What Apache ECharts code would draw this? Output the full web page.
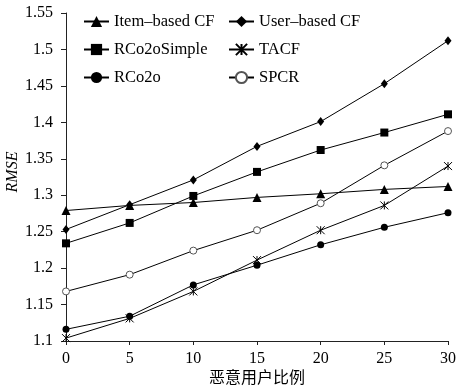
<!DOCTYPE html>
<html>
<head>
<meta charset="utf-8">
<script src="https://cdn.jsdelivr.net/npm/echarts@6/dist/echarts.min.js"></script>
<style>html,body{margin:0;padding:0;background:#fff}#c{width:462px;height:388px}</style>
</head>
<body>
<div id="c"></div>
<script>
var xValues = [0, 5, 10, 15, 20, 25, 30];
var itemCF = [1.279, 1.286, 1.290, 1.297, 1.302, 1.308, 1.312];
var userCF = [1.253, 1.287, 1.321, 1.367, 1.401, 1.453, 1.512];
var rco2oSimple = [1.234, 1.262, 1.299, 1.332, 1.362, 1.386, 1.411];
var tacf = [1.104, 1.131, 1.168, 1.211, 1.252, 1.286, 1.340];
var rco2o = [1.116, 1.134, 1.177, 1.204, 1.232, 1.256, 1.276];
var spcr = [1.168, 1.191, 1.224, 1.252, 1.289, 1.341, 1.388];
var seriesNames = ['Item\u2013based CF', 'User\u2013based CF', 'RCo2oSimple', 'TACF', 'RCo2o', 'SPCR'];
var yTicks = [1.1, 1.55, 0.05];
var xName = '恶意用户比例';
var yName = 'RMSE';

var font = '"Liberation Serif", "Times New Roman", serif';
function pairs(vals) { return xValues.map(function (x, i) { return [x, vals[i]]; }); }
var starPath = 'path://M0,0 L10,10 M10,0 L0,10 M5,0 L5,10';
function mk(name, vals, symbol, size, extra) {
  var s = {
    name: name, type: 'line', data: pairs(vals), symbol: symbol, symbolSize: size,
    showAllSymbol: true,
    lineStyle: { color: '#000', width: 1 },
    itemStyle: { color: '#000', borderColor: '#000', borderWidth: 0 },
    emphasis: { disabled: true }, animation: false
  };
  if (extra) extra(s);
  return s;
}
var series = [
  mk(seriesNames[0], itemCF, 'triangle', 9),
  mk(seriesNames[1], userCF, 'diamond', [7, 9]),
  mk(seriesNames[2], rco2oSimple, 'rect', 8),
  mk(seriesNames[3], tacf, starPath, 8, function (s) {
    s.itemStyle = { color: 'rgba(0,0,0,0)', borderColor: '#000', borderWidth: 1 };
  }),
  mk(seriesNames[4], rco2o, 'circle', 7),
  mk(seriesNames[5], spcr, 'circle', 7, function (s) {
    s.itemStyle = { color: '#fff', borderColor: '#555', borderWidth: 1 };
  })
];
var chart = echarts.init(document.getElementById('c'), null, { renderer: 'canvas' });
var legendText = { fontFamily: font, fontSize: 16.5, color: '#000', lineHeight: 14 };
chart.setOption({
  animation: false,
  backgroundColor: '#fff',
  grid: { left: 66, right: 14, top: 13, bottom: 47, outerBoundsMode: 'none', containLabel: false },
  legend: [
    { orient: 'vertical', left: 83, top: 13, itemWidth: 25, itemHeight: 14, itemGap: 11,
      data: [seriesNames[0], seriesNames[2], seriesNames[4]], textStyle: legendText, padding: 0 },
    { orient: 'vertical', left: 228, top: 13, itemWidth: 25, itemHeight: 14, itemGap: 11,
      data: [seriesNames[1], seriesNames[3], seriesNames[5]], textStyle: legendText, padding: 0 }
  ],
  xAxis: {
    type: 'value', min: xValues[0], max: xValues[xValues.length - 1], interval: 5,
    name: xName, nameLocation: 'middle', nameGap: 28, nameMoveOverlap: false,
    nameTextStyle: { fontFamily: '"Noto Sans CJK SC", sans-serif', fontSize: 16, color: '#000' },
    axisLine: { lineStyle: { color: '#222', width: 1 } },
    axisTick: { show: true, length: 4, inside: false, lineStyle: { color: '#222' } },
    axisLabel: { fontFamily: font, fontSize: 16, color: '#000', margin: 10 },
    splitLine: { show: false }
  },
  yAxis: {
    type: 'value', min: yTicks[0], max: yTicks[1], interval: yTicks[2],
    name: yName, nameLocation: 'middle', nameGap: 45, nameRotate: 90, nameMoveOverlap: false,
    nameTextStyle: { fontFamily: font, fontSize: 16, fontStyle: 'italic', color: '#000', padding: [0, 0, 0, 10] },
    axisLine: { show: true, lineStyle: { color: '#222', width: 1 } },
    axisTick: { show: true, length: 5, inside: false, lineStyle: { color: '#222' } },
    axisLabel: { fontFamily: font, fontSize: 16, color: '#000', margin: 13,
      formatter: function (v) { return String(parseFloat(v.toFixed(2))); } },
    splitLine: { show: false }
  },
  series: series
});
</script>
</body>
</html>
